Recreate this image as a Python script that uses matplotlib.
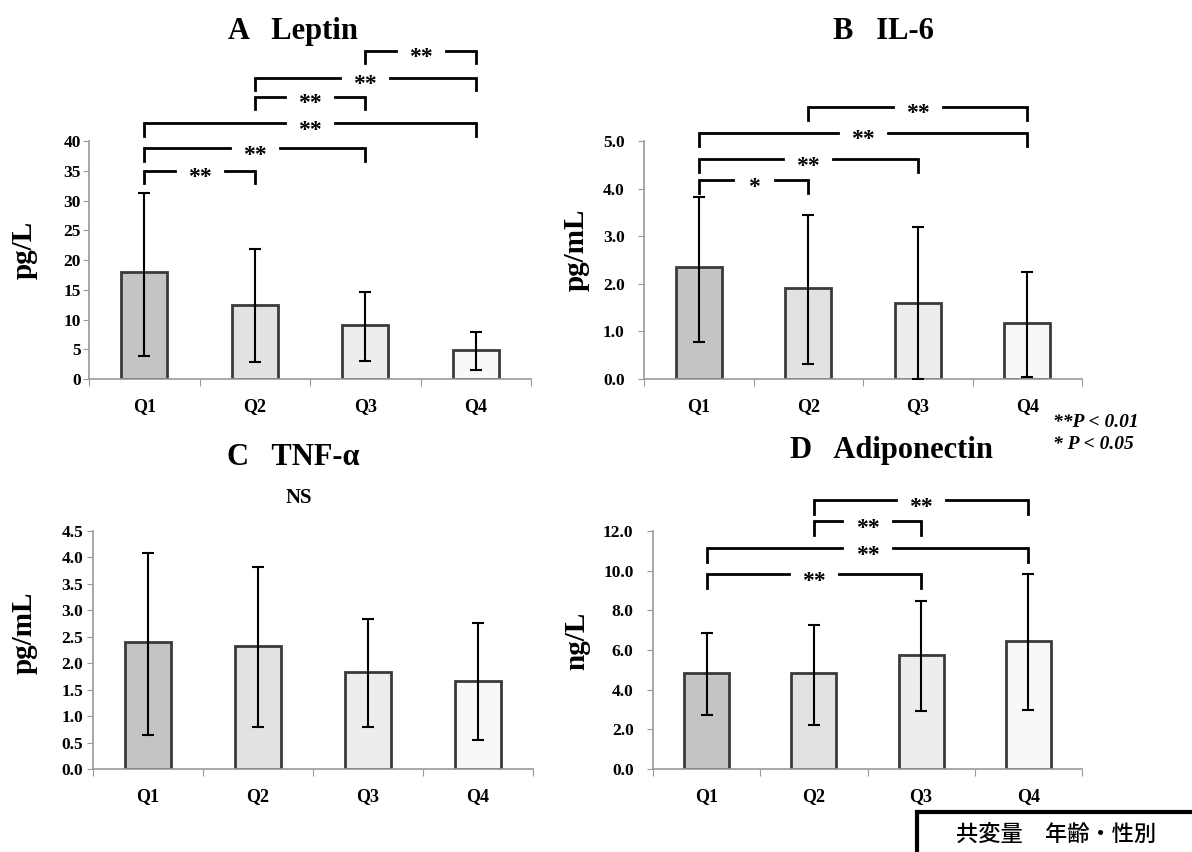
import matplotlib
matplotlib.use("Agg")
import matplotlib.pyplot as plt

plt.rcParams['font.family'] = ['Liberation Serif', 'DejaVu Serif']
plt.rcParams['font.weight'] = 'bold'

quartiles = ['Q1', 'Q2', 'Q3', 'Q4']

# means with lower / upper ends of the error bars
leptin_mean = [17.9, 12.4, 9.1, 4.8]
leptin_low = [3.9, 2.8, 3.1, 1.5]
leptin_high = [31.3, 21.9, 14.6, 7.85]

il6_mean = [2.35, 1.91, 1.60, 1.18]
il6_low = [0.78, 0.31, 0.0, 0.04]
il6_high = [3.83, 3.45, 3.19, 2.24]

tnf_mean = [2.41, 2.32, 1.83, 1.66]
tnf_low = [0.65, 0.80, 0.79, 0.55]
tnf_high = [4.09, 3.82, 2.83, 2.76]

adipo_mean = [4.83, 4.83, 5.73, 6.45]
adipo_low = [2.73, 2.21, 2.93, 2.98]
adipo_high = [6.84, 7.27, 8.47, 9.81]

# significance brackets: (from, to, height, label)
leptin_sig = [(0, 1, 35.0, '**'), (0, 2, 38.8, '**'), (0, 3, 43.0, '**'),
              (1, 2, 47.4, '**'), (1, 3, 50.6, '**'), (2, 3, 55.2, '**')]
il6_sig = [(0, 1, 4.18, '*'), (0, 2, 4.62, '**'), (0, 3, 5.17, '**'), (1, 3, 5.72, '**')]
adipo_sig = [(0, 2, 9.81, '**'), (0, 3, 11.12, '**'), (1, 2, 12.49, '**'), (1, 3, 13.54, '**')]

bar_colors = ['#c4c4c4', '#e2e2e2', '#ededed', '#f8f8f8']

W, H = 1192, 852
fig = plt.figure(figsize=(W / 100, H / 100), dpi=100)


def panel(box, ylabel, label_xy, tick_pad, mean, low, high, ymax, step, fmt, sig, leg):
    # box is (left, top, right, bottom) in pixels from the top-left corner
    l, t, r, b = box
    ax = fig.add_axes([l / W, 1 - b / H, (r - l) / W, (b - t) / H])
    n = len(quartiles)
    x = range(n)
    yerr = [[m - lo for m, lo in zip(mean, low)], [hi - m for m, hi in zip(mean, high)]]
    ax.bar(x, mean, width=0.42, color=bar_colors, edgecolor='#3a3a3a', linewidth=2, zorder=2)
    ax.errorbar(x, mean, yerr=yerr, fmt='none', ecolor='black', elinewidth=1.5,
                capsize=4, capthick=1.5, zorder=3)
    ax.set_xlim(-0.5, n - 0.5)
    ax.set_ylim(0, ymax)
    ticks = [i * step for i in range(int(round(ymax / step)) + 1)]
    ax.set_yticks(ticks)
    ax.set_yticklabels([fmt.format(v) for v in ticks], fontsize=12.5, fontweight='bold')
    ax.set_xticks([i - 0.5 for i in range(n + 1)])
    ax.set_xticklabels([])
    ax.set_xticks(list(x), minor=True)
    ax.set_xticklabels(quartiles, minor=True, fontsize=13, fontweight='bold')
    ax.tick_params(axis='x', which='minor', length=0, pad=14)
    ax.tick_params(axis='x', which='major', length=5, color='#999999', direction='out')
    ax.tick_params(axis='y', length=4, color='#999999', direction='out', pad=tick_pad)
    for s in ['top', 'right']:
        ax.spines[s].set_visible(False)
    for s in ['left', 'bottom']:
        ax.spines[s].set_color('#999999')
        ax.spines[s].set_linewidth(1.2)
    ax.set_ylabel(ylabel, fontsize=21, fontweight='bold')
    ax.yaxis.set_label_coords((label_xy[0] - l) / (r - l), (b - label_xy[1]) / (b - t))

    # brackets with a gap in the middle for the stars
    px = n / (r - l)
    for i, j, h, lab in sig:
        mid = (i + j) / 2
        g = (25 if lab == '**' else 21) * px
        ax.plot([i, i, mid - g], [h - leg, h, h], color='black', lw=2,
                clip_on=False, solid_joinstyle='miter', zorder=4)
        ax.plot([mid + g, j, j], [h, h, h - leg], color='black', lw=2,
                clip_on=False, solid_joinstyle='miter', zorder=4)
        ax.annotate(lab, (mid, h), xytext=(0, -9), textcoords='offset points',
                    ha='center', va='baseline', fontsize=17, fontweight='bold',
                    annotation_clip=False, zorder=5)
    return ax


panel((89, 141, 531, 379), 'pg/L', (38, 250), 2, leptin_mean, leptin_low, leptin_high,
      40, 5, '{:.0f}', leptin_sig, 2.1)
panel((644, 141, 1082, 379), 'pg/mL', (590, 250), 10, il6_mean, il6_low, il6_high,
      5.0, 1.0, '{:.1f}', il6_sig, 0.28)
panel((93, 531, 533, 769), 'pg/mL', (38, 633), 3, tnf_mean, tnf_low, tnf_high,
      4.5, 0.5, '{:.1f}', [], 0)
panel((653, 531, 1082, 769), 'ng/L', (590, 641), 10, adipo_mean, adipo_low, adipo_high,
      12.0, 2.0, '{:.1f}', adipo_sig, 0.67)

# panel titles
title_kw = dict(ha='center', va='baseline', fontsize=22, fontweight='bold')
fig.text(293 / W, 1 - 39 / H, 'A   Leptin', **title_kw)
fig.text(883 / W, 1 - 39 / H, 'B   IL-6', **title_kw)
fig.text(293 / W, 1 - 465 / H, 'C   TNF-α', **title_kw)
fig.text(299 / W, 1 - 503 / H, 'NS', ha='center', va='baseline', fontsize=15, fontweight='bold')
fig.text(891 / W, 1 - 458 / H, 'D   Adiponectin', **title_kw)

fig.text(1053 / W, 1 - 427 / H, '**P < 0.01', ha='left', va='baseline', fontsize=14,
         fontweight='bold', style='italic')
fig.text(1053 / W, 1 - 449 / H, '* P < 0.05', ha='left', va='baseline', fontsize=14,
         fontweight='bold', style='italic')

# covariate box in the lower right corner
fig.patches.append(plt.Rectangle((917 / W, -0.02), 0.4, 0.02 + (H - 812) / H,
                                 transform=fig.transFigure, facecolor='white',
                                 edgecolor='black', linewidth=3))
fig.text(1056 / W, 1 - 834 / H, '共変量　年齢・性別', ha='center', va='center', fontsize=16,
         family=['Noto Sans CJK JP', 'DejaVu Sans'], fontweight='medium')

fig.savefig('out.png', dpi=100)
